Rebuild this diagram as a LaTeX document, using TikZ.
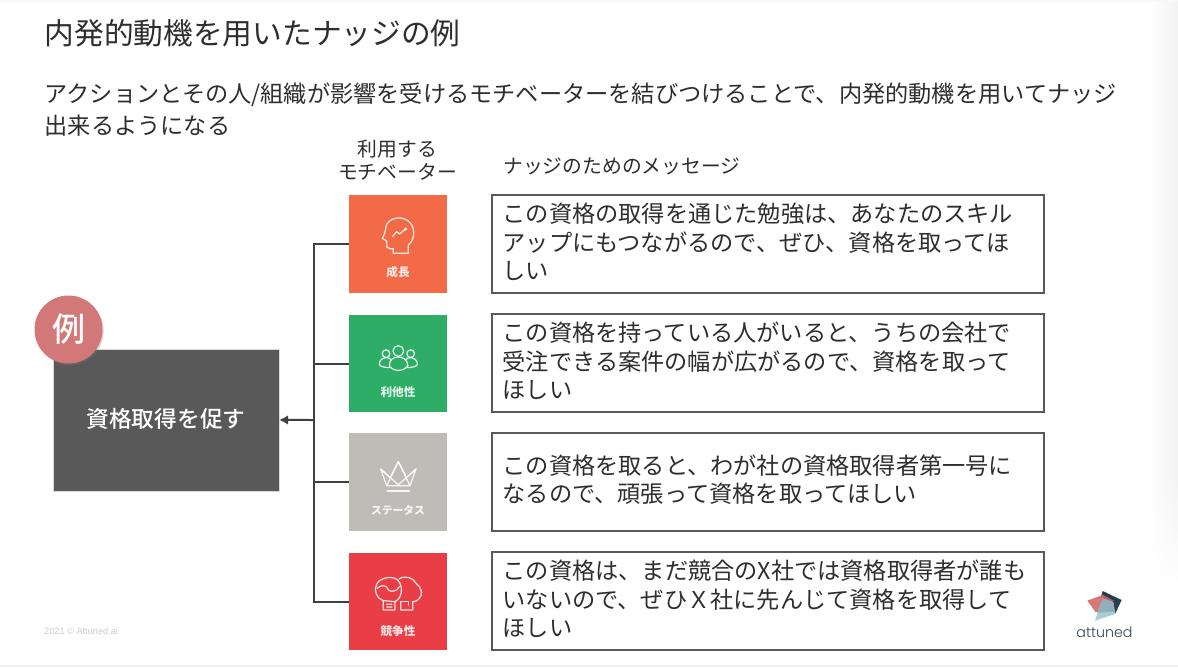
\documentclass[tikz,border=0pt]{standalone}
\usepackage{fontspec}
\setmainfont{Noto Sans CJK JP}
\newfontfamily\medfont{Noto Sans CJK JP Medium}
\newfontfamily\latinfont{Poppins Light}
\newfontfamily\sansfont{Liberation Sans}
\usetikzlibrary{shadows,arrows.meta,fadings}
\definecolor{inkc}{HTML}{2E2E2E}
\definecolor{linec}{HTML}{404040}
\definecolor{boxedge}{HTML}{595959}
\definecolor{darkbox}{HTML}{595959}
\definecolor{orangec}{HTML}{F26B46}
\definecolor{greenc}{HTML}{2EAD66}
\definecolor{greyc}{HTML}{BDBCB6}
\definecolor{redc}{HTML}{E93E45}
\definecolor{badgec}{HTML}{D37878}
\definecolor{logodark}{RGB}{38,62,78}
\definecolor{logored}{RGB}{217,118,118}
\definecolor{logomix}{RGB}{190,100,105}
\definecolor{logopale}{RGB}{171,205,213}
\definecolor{logomid}{RGB}{145,175,186}
\definecolor{logotext}{RGB}{50,70,85}
\tikzset{
  msgbox/.style={draw=boxedge,line width=1.3pt,fill=white,minimum width=552pt,minimum height=98pt,inner sep=0pt,anchor=north west},
  msgtext/.style={anchor=west,inner sep=0pt,align=left,font=\fontsize{23.2}{28.5}\selectfont,text=inkc},
  motbox/.style={minimum width=98pt,minimum height=98pt,inner sep=0pt,anchor=north west},
  motlabel/.style={text=white,font=\fontsize{11.6}{13}\selectfont\bfseries,inner sep=0pt,opacity=.85},
  headtext/.style={text=inkc,font=\fontsize{19.8}{24}\selectfont,inner sep=0pt,align=center},
  conn/.style={draw=linec,line width=2pt},
  icon/.style={draw=white,line width=1.25pt,opacity=.85,line join=round,line cap=round},
  zoomA/.style={shift={(340,190)},x=.3333pt,y=-.3333pt},
  zoomB/.style={shift={(340,425)},x=.3333pt,y=-.3333pt},
  zoomC/.style={shift={(1060,570)},x=.3333pt,y=-.3333pt}
}
\begin{document}
\begin{tikzpicture}[x=1pt,y=-1pt]
\useasboundingbox (0,0) rectangle (1178,667);
\fill[white] (0,0) rectangle (1178,667);
\shade[left color=white,right color=black!5,draw=none] (1148,2) rectangle (1178,470);
\shade[left color=white,right color=black!5,draw=none,path fading=south] (1148,470) rectangle (1178,590);
\fill[black!6] (0,665) rectangle (1178,667);
\fill[black!3] (0,0) rectangle (1178,1.5);
% heading
\node[anchor=west,inner sep=0pt,text=inkc,font=\fontsize{29.7}{34}\selectfont] (title) at (44.5,33) {内発的動機を用いたナッジの例};
\node[anchor=west,inner sep=0pt,text=inkc,font=\fontsize{23.2}{23.2}\selectfont] (sub1) at (44.5,94.5) {アクションとその人/組織が影響を受けるモチベーターを結びつけることで、内発的動機を用いてナッジ};
\node[anchor=west,inner sep=0pt,text=inkc,font=\fontsize{23.2}{23.2}\selectfont] (sub2) at (44.5,126) {出来るようになる};
\node[headtext] (h1) at (397.5,160) {利用する\\[-0.5pt]モチベーター};
\node[headtext,anchor=west] (h2) at (503,166) {ナッジのためのメッセージ};
% main box
\node[fill=darkbox,draw=black!15,line width=.5pt,minimum width=226pt,minimum height=142pt,inner sep=0pt,anchor=north west,text=white,font=\medfont\fontsize{22.7}{25}\selectfont] (main) at (52.7,348.7) {\raisebox{4pt}{資格取得を促す}};
\node[circle,fill=badgec,minimum size=68pt,inner sep=0pt,text=white,font=\medfont\fontsize{33}{36}\selectfont,drop shadow={shadow xshift=1.2pt,shadow yshift=-1.5pt,opacity=.3}] (badge) at (68.5,329.5) {\raisebox{4.5pt}{例}};
% motivator boxes
\node[motbox,fill=orangec] (m1) at (349,195) {};
\node[motbox,fill=greenc,minimum height=97pt] (m2) at (349,315) {};
\node[motbox,fill=greyc] (m3) at (349,433) {};
\node[motbox,fill=redc,minimum height=97pt] (m4) at (349,553) {};
\node[motlabel] (l1) at (398,272.5) {成長};
\node[motlabel] (l2) at (398,392.5) {利他性};
\node[motlabel,font=\fontsize{10.8}{13}\selectfont\bfseries] (l3) at (398,510.5) {ステータス};
\node[motlabel] (l4) at (398,631) {競争性};
% connectors
\coordinate (bus) at (314,420);
\draw[conn] (m1.west) -| (bus);
\draw[conn] (m2.west) -| (bus);
\draw[conn] (m3.west) -| (bus);
\draw[conn] (m4.west) -| (bus);
\draw[conn,-{Latex[length=9pt,width=10pt]}] (bus) -- (main.east);
% messages
\node[msgbox] (t1) at (491.2,194.2) {};
\node[msgbox] (t2) at (491.2,313.2) {};
\node[msgbox] (t3) at (491.2,432.2) {};
\node[msgbox] (t4) at (491.2,551.2) {};
\node[msgtext] (x1) at ([xshift=11.3pt,yshift=2pt]t1.west) {この資格の取得を通じた勉強は、あなたのスキル\\アップにもつながるので、ぜひ、資格を取ってほ\\しい};
\node[msgtext] (x2) at ([xshift=11.3pt,yshift=2pt]t2.west) {この資格を持っている人がいると、うちの会社で\\受注できる案件の幅が広がるので、資格を取って\\ほしい};
\node[msgtext] (x3) at ([xshift=11.3pt,yshift=2pt]t3.west) {この資格を取ると、わが社の資格取得者第一号に\\なるので、頑張って資格を取ってほしい};
\node[msgtext] (x4) at ([xshift=11.3pt,yshift=2pt]t4.west) {この資格は、まだ競合のX社では資格取得者が誰も\\いないので、ぜひＸ社に先んじて資格を取得して\\ほしい};
% icon: head
\begin{scope}[zoomA]
\draw[icon] (205,190) -- (205,165) .. controls (224,150) and (226,118) .. (212,100) .. controls (195,78) and (155,78) .. (140,103) .. controls (135,120) and (138,125) .. (127,145) -- (140,153) -- (140,170) .. controls (145,178) and (155,176) .. (160,176) -- (160,190) -- cycle;
\draw[icon] (157,140) -- (170,125) -- (178,132) -- (197,117);
\fill[white,opacity=.85] (197,117) circle (5);
% icon: people
\draw[icon] (175,483) circle (16);
\draw[icon] (138,491) circle (11.5);
\draw[icon] (212,491) circle (11.5);
\draw[icon] (148,527) .. controls (148,508) and (162,501) .. (175,501) .. controls (188,501) and (202,508) .. (204,527) .. controls (190,546) and (160,546) .. (148,527) -- cycle;
\draw[icon] (148,533) .. controls (132,532) and (118,530) .. (118,522) .. controls (118,510) and (128,504) .. (138,503) .. controls (143,503) and (148,504) .. (152,508);
\draw[icon] (202,533) .. controls (218,532) and (232,530) .. (232,522) .. controls (232,510) and (222,504) .. (212,503) .. controls (207,503) and (202,504) .. (198,508);
\end{scope}
% icon: crown, gloves
\begin{scope}[zoomB]
\draw[icon] (122,132) -- (150,158) -- (175,110) -- (200,158) -- (228,132) -- (210,182) -- (140,182) -- cycle;
\draw[icon] (175,110) -- (210,182) (175,110) -- (140,182) (122,132) -- (178,182) (228,132) -- (172,182);
\draw[icon,line width=1.8pt] (142,197) -- (208,197);
\draw[icon] (130,555) -- (130,527) .. controls (110,522) and (100,495) .. (110,478) .. controls (120,455) and (165,450) .. (177,470) .. controls (190,490) and (185,520) .. (165,530) -- (165,555) -- cycle;
\draw[icon] (130,527) -- (165,530) (140,538) -- (156,538) (140,546) -- (156,546);
\draw[icon] (112,490) .. controls (122,478) and (142,480) .. (145,495) .. controls (155,502) and (170,500) .. (178,485);
\draw[icon] (177,462) .. controls (195,450) and (220,458) .. (228,475) .. controls (245,485) and (250,510) .. (238,520) .. controls (230,530) and (222,530) .. (218,530) -- (218,555) -- (182,555) -- (182,530);
\draw[icon] (182,530) -- (205,530) -- (205,540);
\end{scope}
% logo
\begin{scope}[zoomC]
\fill[logodark] (128,63) -- (185,90) -- (165,132) -- (110,125) -- cycle;
\fill[logored] (82,92) -- (128,75) -- (160,92) -- (118,128) -- (106,125) -- cycle;
\fill[logomix] (128,75) -- (160,92) -- (118,120) -- cycle;
\fill[logopale] (128,85) -- (160,97) -- (165,132) -- (105,152) -- (118,112) -- cycle;
\fill[logomid] (128,85) -- (160,97) -- (165,125) -- (112,128) -- (118,112) -- cycle;
\end{scope}
\node[inner sep=0pt,text=logotext,font=\latinfont\fontsize{14.2}{18}\selectfont] (logo) at (1104.5,632) {attuned};
\node[anchor=west,inner sep=0pt,text=black!20,font=\sansfont\fontsize{9.2}{10}\selectfont] (copy) at (44,631) {2021 © Attuned.ai};
\end{tikzpicture}
\end{document}
